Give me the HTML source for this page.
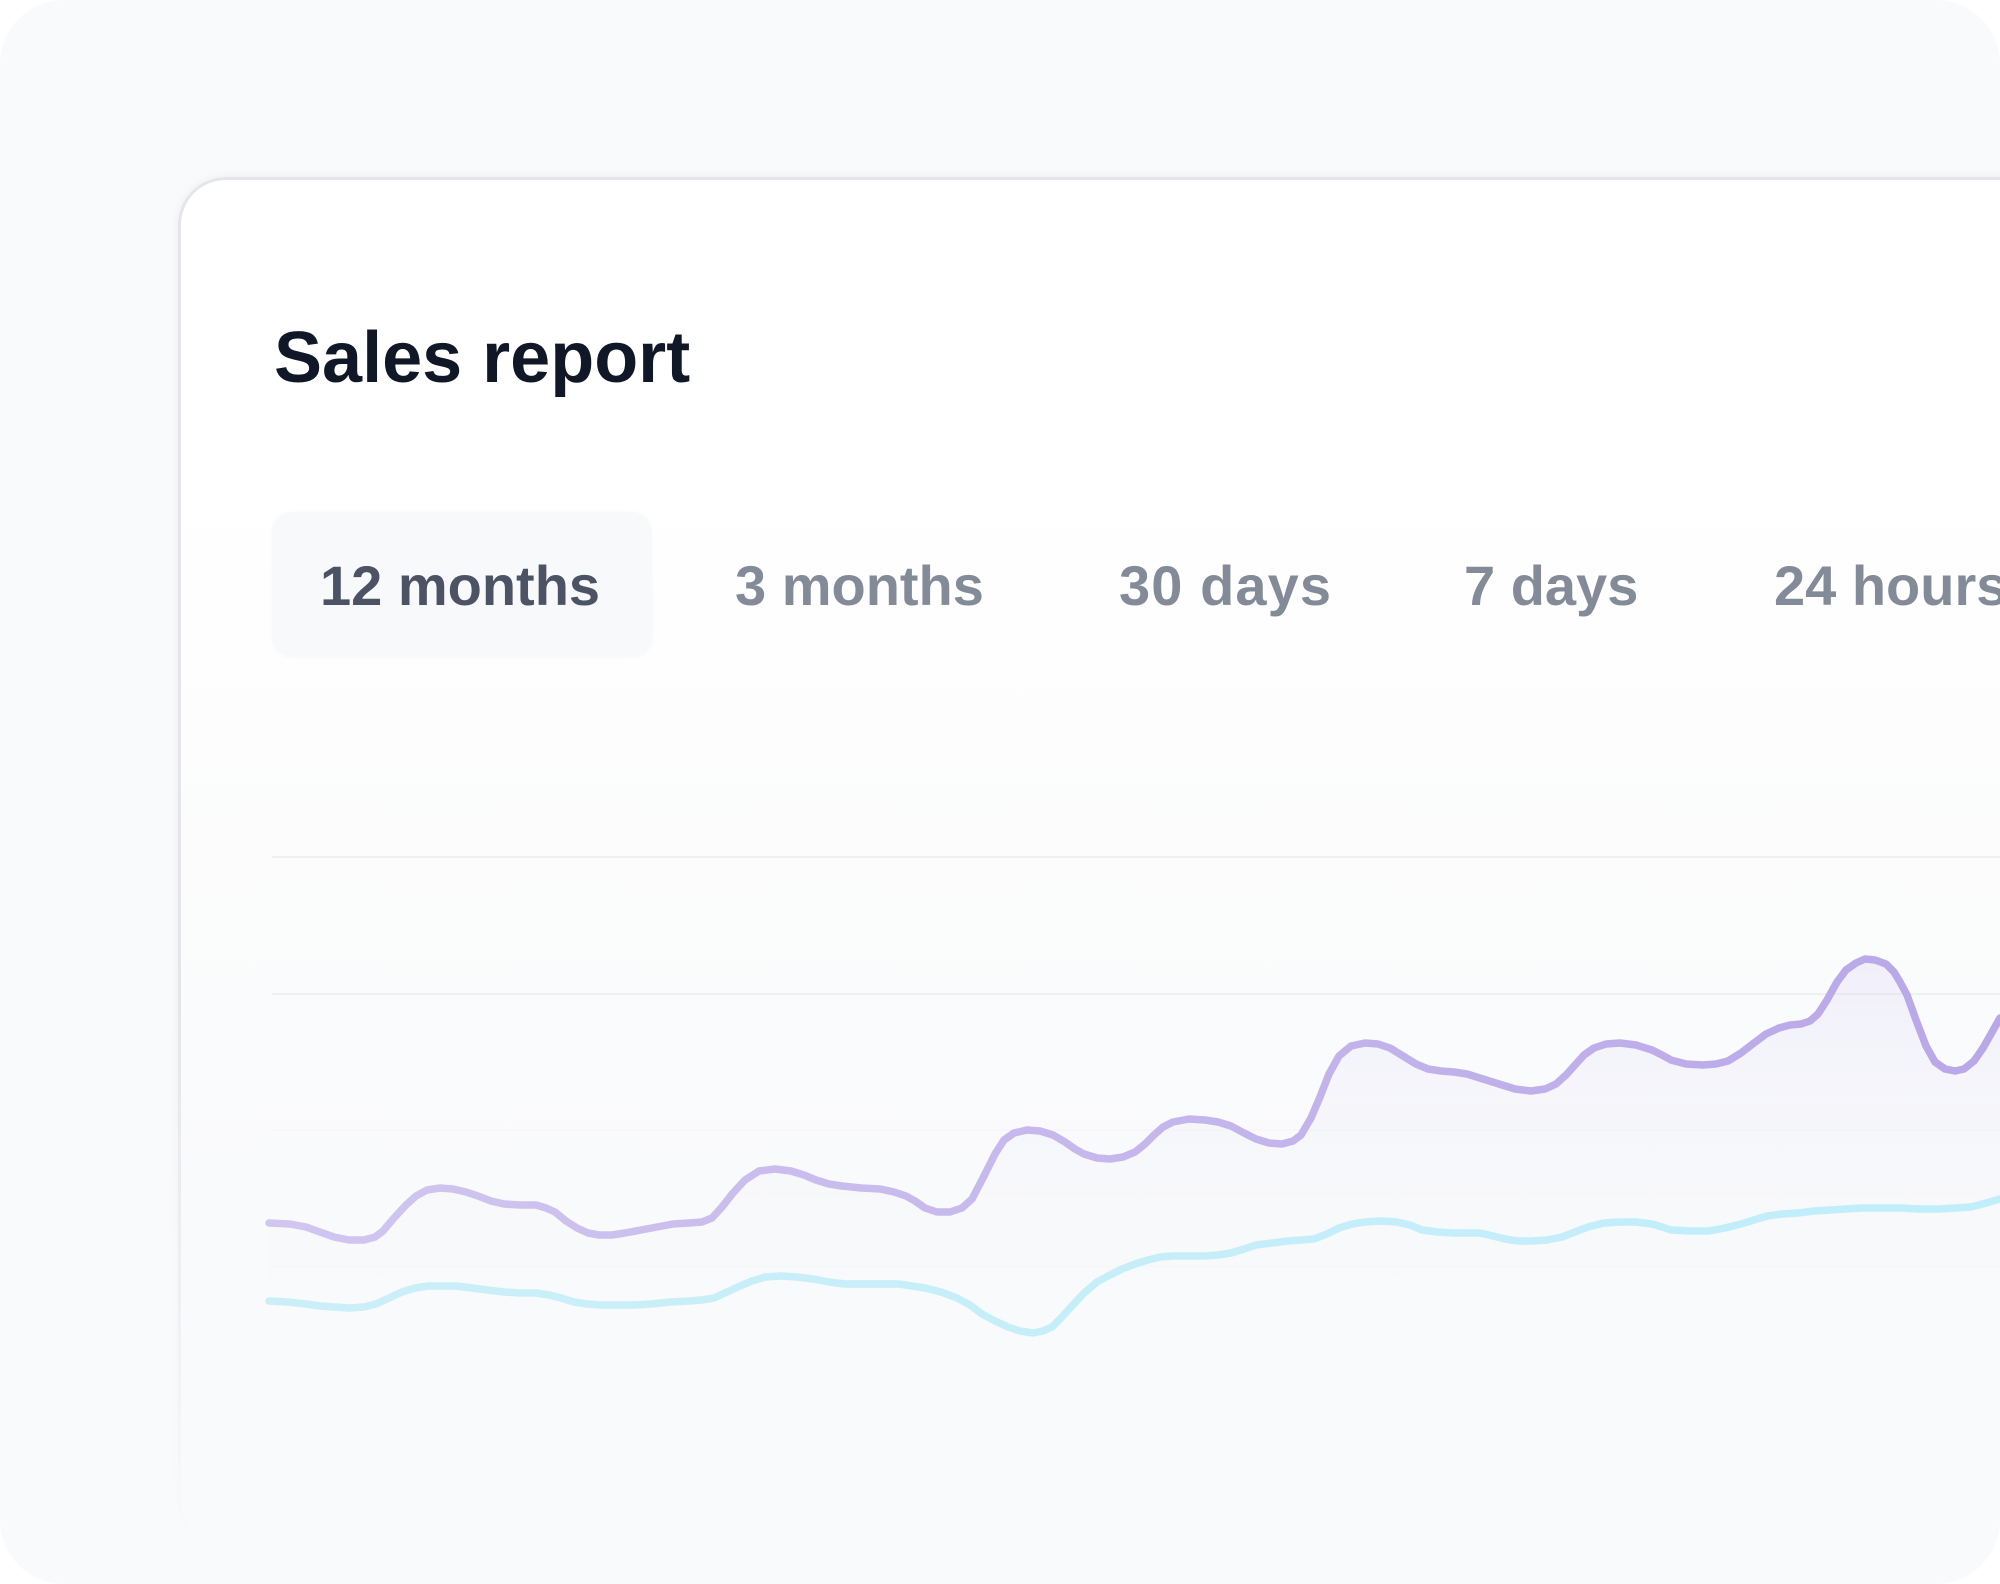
<!DOCTYPE html>
<html>
<head>
<meta charset="utf-8">
<style>
  html,body{margin:0;padding:0;background:#ffffff;}
  body{width:2000px;height:1584px;position:relative;overflow:hidden;}
  .outer{position:absolute;left:0;top:0;width:2000px;height:1584px;border-radius:64px;background:#f9fafb;overflow:hidden;}
  .card{position:absolute;left:178px;top:177px;width:1900px;height:1373px;box-sizing:border-box;border:3px solid #e4e6ea;border-radius:48px;
        background:linear-gradient(to bottom,#ffffff 0px,#ffffff 300px,#fdfdfd 560px,#fafbfc 850px,#f9fafb 1050px,#f9fafb 100%);
        box-shadow:0 0 10px rgba(16,24,40,0.05);}
  .fade{position:absolute;left:0;top:0;width:2000px;height:1584px;
        background:linear-gradient(to bottom,rgba(249,250,251,0) 0px,rgba(249,250,251,0) 1000px,rgba(249,250,251,0.6) 1350px,rgba(249,250,251,1) 1545px);}
  .tabbg{position:absolute;left:272px;top:512px;width:380px;height:145px;border-radius:20px;background:#f8f9fa;box-shadow:0 0 6px rgba(16,24,40,0.025);}
  svg{position:absolute;left:0;top:0;}
</style>
</head>
<body>
<div class="outer">
  <div class="card"></div>
  <div class="tabbg"></div>
  <div class="fade"></div>
  <svg width="2000" height="1584" viewBox="0 0 2000 1584" xmlns="http://www.w3.org/2000/svg">
    <defs>
      <linearGradient id="pg" x1="270" y1="0" x2="2000" y2="0" gradientUnits="userSpaceOnUse">
        <stop offset="0" stop-color="#d1c6f0"/>
        <stop offset="1" stop-color="#b9a7e8"/>
      </linearGradient>
      <linearGradient id="cg" x1="270" y1="0" x2="2000" y2="0" gradientUnits="userSpaceOnUse">
        <stop offset="0" stop-color="#cbeff8"/>
        <stop offset="1" stop-color="#c0eefa"/>
      </linearGradient>
      <linearGradient id="ag" x1="0" y1="960" x2="0" y2="1380" gradientUnits="userSpaceOnUse">
        <stop offset="0" stop-color="#c9bdf3" stop-opacity="0.2"/>
        <stop offset="0.6" stop-color="#e4e4f4" stop-opacity="0.06"/>
        <stop offset="1" stop-color="#f0f0f6" stop-opacity="0.0"/>
      </linearGradient>
    </defs>

    <!-- title -->
    <text x="274" y="382" font-family="Liberation Sans, Arial, sans-serif" font-weight="bold" font-size="72" fill="#101828">Sales report</text>

    <!-- tabs -->
    <g font-family="Liberation Sans, Arial, sans-serif" font-weight="bold" font-size="56">
      <text x="320" y="605" fill="#4b5364">12 months</text>
      <text x="735" y="605" fill="#848b98">3 months</text>
      <text x="1119" y="605" fill="#848b98" textLength="212">30 days</text>
      <text x="1464" y="605" fill="#848b98">7 days</text>
      <text x="1774" y="605" fill="#848b98">24 hours</text>
    </g>

    <!-- grid lines -->
    <g stroke="#eff0f2" stroke-width="2">
      <line x1="272" y1="857" x2="2000" y2="857"/>
      <line x1="272" y1="994" x2="2000" y2="994"/>
      <line x1="272" y1="1130" x2="2000" y2="1130" stroke="#f7f7f9"/>
      <line x1="272" y1="1266" x2="2000" y2="1266" stroke="#f7f8f9"/>
    </g>

    <!-- area under purple -->
    <polygon fill="url(#ag)" points="269,1223 306,1227 334,1237 364,1240 383,1231 406,1205 427,1190 453,1189 478,1196 504,1204 536,1205 555,1212 577,1228 599,1235 625,1233 657,1227 689,1223 712,1218 733,1193 759,1171 791,1171 816,1180 842,1186 880,1189 906,1196 925,1208 950,1212 972,1199 995,1154 1014,1133 1040,1131 1065,1142 1084,1154 1110,1159 1135,1152 1154,1135 1173,1122 1205,1120 1231,1126 1256,1139 1282,1144 1301,1135 1320,1097 1339,1056 1365,1043 1390,1048 1416,1064 1441,1071 1467,1074 1499,1084 1531,1091 1556,1084 1575,1065 1594,1048 1620,1043 1652,1050 1671,1060 1703,1065 1728,1061 1754,1043 1779,1028 1801,1024 1818,1014 1837,982 1856,963 1875,960 1894,972 1907,995 1926,1046 1945,1069 1964,1069 1983,1048 2000,1018 2000,1380 269,1380"/>

    <!-- purple line -->
    <polyline fill="none" stroke="url(#pg)" stroke-width="7.5" stroke-linejoin="round" stroke-linecap="round"
      points="269,1223 290,1224 306,1227 320,1232 334,1237 349,1240 364,1240 375,1237 383,1231 394,1218 406,1205 416,1196 427,1190 440,1188 453,1189 466,1192 478,1196 491,1201 504,1204 520,1205 536,1205 546,1208 555,1212 566,1221 577,1228 588,1233 599,1235 612,1235 625,1233 641,1230 657,1227 673,1224 689,1223 702,1222 712,1218 722,1207 733,1193 745,1180 759,1171 775,1169 791,1171 804,1175 816,1180 829,1184 842,1186 861,1188 880,1189 894,1192 906,1196 915,1201 925,1208 937,1212 950,1212 962,1208 972,1199 983,1178 995,1154 1004,1140 1014,1133 1027,1130 1040,1131 1053,1135 1065,1142 1075,1149 1084,1154 1097,1158 1110,1159 1123,1157 1135,1152 1145,1144 1154,1135 1163,1127 1173,1122 1189,1119 1205,1120 1218,1122 1231,1126 1244,1133 1256,1139 1269,1143 1282,1144 1293,1141 1301,1135 1311,1118 1320,1097 1329,1074 1339,1056 1351,1046 1365,1043 1378,1044 1390,1048 1403,1056 1416,1064 1428,1069 1441,1071 1454,1072 1467,1074 1483,1079 1499,1084 1515,1089 1531,1091 1545,1089 1556,1084 1566,1075 1575,1065 1584,1055 1594,1048 1606,1044 1620,1043 1636,1045 1652,1050 1662,1055 1671,1060 1686,1064 1703,1065 1716,1064 1728,1061 1741,1053 1754,1043 1766,1034 1779,1028 1790,1025 1801,1024 1810,1021 1818,1014 1827,1000 1837,982 1846,970 1856,963 1865,959 1875,960 1886,964 1894,972 1900,982 1907,995 1916,1020 1926,1046 1935,1062 1945,1069 1955,1071 1964,1069 1974,1061 1983,1048 1991,1034 2000,1018"/>

    <!-- cyan line -->
    <polyline fill="none" stroke="url(#cg)" stroke-width="7.5" stroke-linejoin="round" stroke-linecap="round"
      points="269,1301 288,1302 306,1304 320,1306 334,1307 349,1308 364,1307 376,1304 389,1298 402,1292 415,1288 428,1286 440,1286 456,1286 472,1288 488,1290 504,1292 520,1293 536,1293 549,1295 561,1298 574,1302 587,1304 600,1305 612,1305 632,1305 651,1304 670,1302 689,1301 702,1300 714,1298 727,1292 740,1286 752,1281 765,1277 781,1276 797,1277 813,1279 829,1282 845,1284 861,1284 880,1284 899,1284 912,1286 925,1288 941,1292 957,1298 970,1305 982,1314 995,1321 1008,1327 1020,1331 1033,1333 1043,1331 1052,1327 1061,1318 1071,1307 1084,1293 1097,1282 1110,1275 1122,1269 1135,1264 1148,1260 1160,1257 1173,1256 1189,1256 1205,1256 1218,1255 1231,1253 1244,1249 1256,1245 1272,1243 1288,1241 1301,1240 1314,1239 1327,1234 1339,1228 1352,1224 1365,1222 1381,1221 1397,1222 1410,1225 1422,1230 1438,1232 1454,1233 1467,1233 1480,1233 1493,1236 1505,1239 1518,1241 1531,1241 1547,1240 1562,1237 1575,1232 1588,1227 1604,1223 1620,1222 1636,1222 1652,1224 1662,1227 1671,1230 1690,1231 1709,1231 1725,1228 1741,1224 1754,1220 1767,1216 1782,1214 1798,1213 1814,1211 1830,1210 1846,1209 1862,1208 1882,1208 1901,1208 1920,1209 1939,1209 1955,1208 1971,1207 1986,1203 2000,1199"/>
  </svg>
</div>
</body>
</html>
